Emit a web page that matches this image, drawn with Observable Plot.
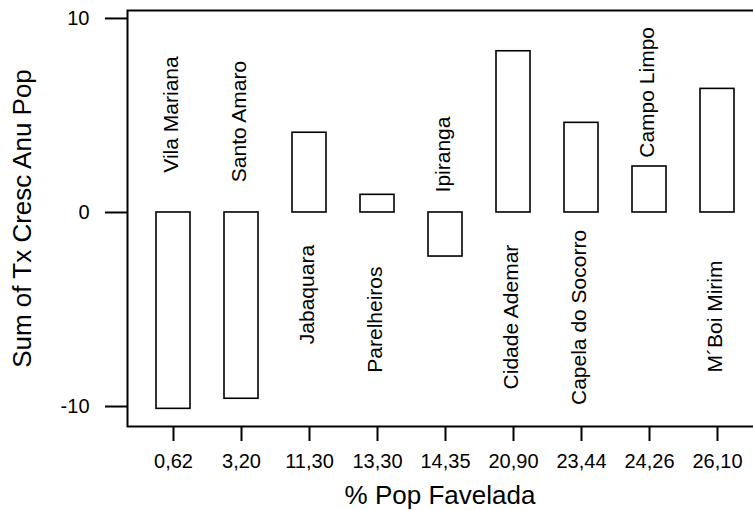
<!DOCTYPE html>
<html>
<head>
<meta charset="utf-8">
<script src="https://cdn.jsdelivr.net/npm/d3@7"></script>
<script src="https://cdn.jsdelivr.net/npm/@observablehq/plot@0.6"></script>
<style>
  html, body { margin: 0; padding: 0; background: #fff; }
  #chart svg { display: block; }
</style>
</head>
<body>
<div id="chart"></div>
<script>
// % Pop Favelada (category tick labels)
const pctLabels = ["0,62", "3,20", "11,30", "13,30", "14,35", "20,90", "23,44", "24,26", "26,10"];
// District names written next to each bar
const districts = ["Vila Mariana", "Santo Amaro", "Jabaquara", "Parelheiros", "Ipiranga",
                   "Cidade Ademar", "Capela do Socorro", "Campo Limpo", "M´Boi Mirim"];
// Sum of Tx Cresc Anu Pop
const growth = [-10.12, -9.60, 4.11, 0.91, -2.27, 8.31, 4.62, 2.37, 6.37];
// Where each district label is centred, in the chart's y units
const labelAt = [5.05, 4.69, -4.23, -5.52, 2.99, -5.39, -5.41, 6.19, -5.36];
// y-axis ticks
const yTicks = [-10, 0, 10];

const data = pctLabels.map((p, i) => ({pct: p, name: districts[i], value: growth[i], labelY: labelAt[i]}));

const font = "'Liberation Sans', Arial, sans-serif";

const chart = Plot.plot({
  width: 753,
  height: 510,
  marginLeft: 127,
  marginRight: -9,
  marginTop: 10,
  marginBottom: 84,
  style: {fontFamily: font, fontSize: "20px", color: "black", background: "white", overflow: "hidden"},
  x: {type: "band", domain: pctLabels, paddingInner: 0.5, paddingOuter: 0.4},
  y: {domain: [-11.03, 10.41]},
  marks: [
    Plot.frame({stroke: "black", strokeWidth: 2}),
    Plot.barY(data, {x: "pct", y: "value", fill: "white", stroke: "black", strokeWidth: 1.6}),
    Plot.text(data, {x: "pct", y: "labelY", text: "name", rotate: -90, fontSize: 21,
                     textAnchor: "middle", lineAnchor: "middle", dx: -2, fill: "black"}),
    Plot.axisY({ticks: yTicks, tickFormat: d => String(d), tickSize: 22, tickPadding: 16,
                fontSize: 20, label: null, strokeWidth: 2}),
    Plot.axisX({tickSize: 15, tickPadding: 12, fontSize: 20, label: null, strokeWidth: 2}),
    Plot.text(["Sum of Tx Cresc Anu Pop"], {frameAnchor: "left", text: d => d, rotate: -90,
                fontSize: 26, textAnchor: "middle", lineAnchor: "middle", dx: -105, fill: "black"}),
    Plot.text(["% Pop Favelada"], {frameAnchor: "bottom", text: d => d, fontSize: 26,
                textAnchor: "middle", lineAnchor: "middle", dy: 69, dx: -5, fill: "black"})
  ]
});

document.getElementById("chart").appendChild(chart);
</script>
</body>
</html>
